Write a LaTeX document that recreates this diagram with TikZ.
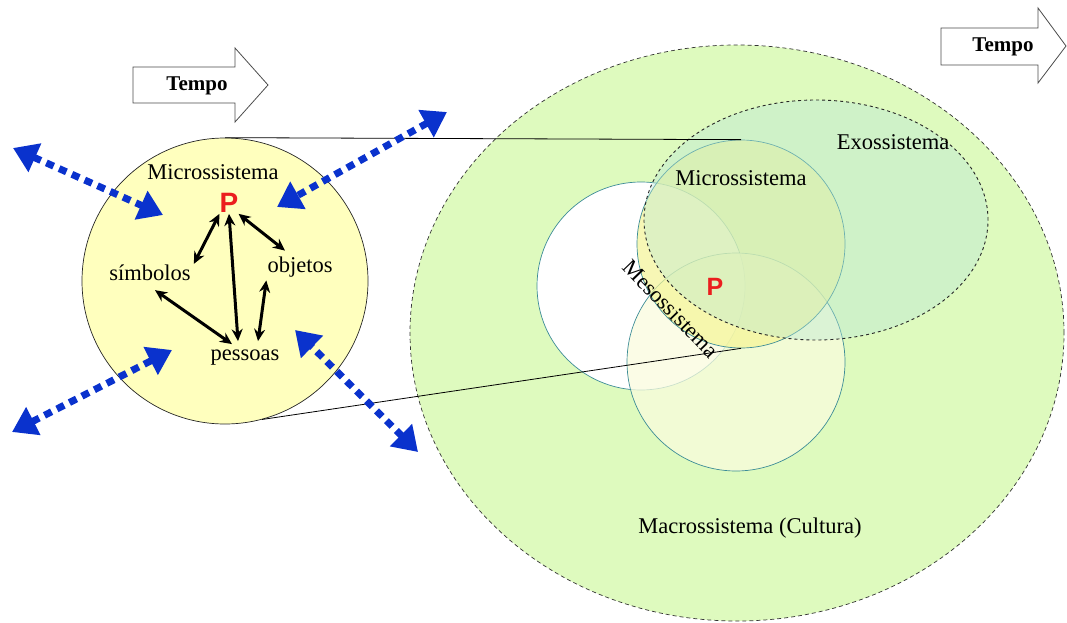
\documentclass[tikz,border=0pt]{standalone}
\usepackage{fontspec}
\setmainfont{Liberation Serif}
\newfontfamily\pfont{Liberation Sans}
\usetikzlibrary{arrows.meta}
\definecolor{bigG}{RGB}{222,250,190}
\definecolor{exoC}{RGB}{185,232,215}
\definecolor{microC}{RGB}{245,245,150}
\definecolor{botC}{RGB}{250,252,222}
\definecolor{leftC}{RGB}{255,255,190}
\definecolor{blueA}{RGB}{10,50,205}
\definecolor{tealS}{RGB}{60,140,150}
\definecolor{redP}{RGB}{235,30,30}
\tikzset{
  lbl/.style={font=\fontsize{22.5}{24}\selectfont, inner sep=1pt},
  plbl/.style={font=\pfont\bfseries\fontsize{28}{30}\selectfont, text=redP, inner sep=1pt},
  tempobox/.style={draw=black!70, fill=white, line width=0.8pt, line join=miter},
  tempotxt/.style={font=\bfseries\fontsize{21}{23}\selectfont},
  blk/.style={line width=3pt, {Stealth[length=12pt,width=11pt]}-{Stealth[length=12pt,width=11pt]}},
  blu/.style={draw=blueA, line width=7pt, dash pattern=on 8pt off 6pt,
    {Triangle[length=24pt,width=30pt]}-{Triangle[length=24pt,width=30pt]}},
  ring/.style={draw=tealS, line width=0.7pt},
}
\begin{document}
\begin{tikzpicture}[x=1pt,y=-1pt]
\useasboundingbox (0,0) rectangle (1067,623);
% big macro circle
\path[fill=bigG, draw=black!80, line width=0.7pt, dash pattern=on 4pt off 3pt]
  (737,333) ellipse [x radius=327pt, y radius=288pt];
% white circle
\path[ring, fill=white] (641,286) circle [radius=104pt];
% bottom circle
\path[ring, fill=botC, fill opacity=0.75] (736,362) circle [radius=109pt];
% micro circle (right)
\node[ring, circle, fill=microC, fill opacity=0.7, minimum size=208pt, inner sep=0pt] (mc) at (741,244) {};
% exo ellipse
\path[fill=exoC, fill opacity=0.4, draw=black!85, line width=0.9pt, dash pattern=on 3pt off 3pt]
  (816,220) ellipse [x radius=172pt, y radius=120pt];
% left circle
\node[circle, draw=black!85, fill=leftC, line width=0.7pt, minimum size=286pt, inner sep=0pt] (lc) at (225,281) {};
% connecting lines
\draw[black, line width=0.8pt] (lc.north) -- (mc.north);
\draw[black, line width=0.8pt] (lc.-75) -- (mc.south);
% right labels
\node[lbl] (mct) at (741,178) {Microssistema};
\node[lbl] (exo) at (893,142) {Exossistema};
\node[plbl, font=\pfont\bfseries\fontsize{25}{27}\selectfont] (P2) at (715,287) {P};
\node[lbl, rotate=-46] (meso) at (671,309) {Mesossistema};
\node[lbl] (macro) at (750,528) {Macrossistema (Cultura)};
% left labels
\node[lbl] (lct) at (213,172) {Microssistema};
\node[plbl] (P) at (229,203) {P};
\node[lbl] (simb) at (150,273) {símbolos};
\node[lbl] (obj) at (300,267) {objetos};
\node[lbl] (pess) at (245,358) {pessoas};
% black arrows
\draw[blk] ([xshift=1pt]P.south west) -- ([xshift=2pt]simb.north east);
\draw[blk] (P.south) -- ([xshift=-7pt,yshift=8pt]pess.north);
\draw[blk] ([xshift=-1pt]P.south east) -- ([xshift=-15pt,yshift=5pt]obj.north);
\draw[blk] ([xshift=5pt,yshift=-8pt]simb.south) -- ([xshift=-13pt,yshift=5pt]pess.north);
\draw[blk] ([yshift=-2pt]obj.south west) -- ([xshift=13pt,yshift=8pt]pess.north);
% blue dashed arrows
\coordinate (b1o) at (13,148); \coordinate (b1i) at (163,215);
\coordinate (b2o) at (447,112); \coordinate (b2i) at (277,207);
\coordinate (b3o) at (12,432); \coordinate (b3i) at (172,350);
\coordinate (b4o) at (418,452); \coordinate (b4i) at (295,330);
\draw[blu] (b1o) -- (b1i);
\draw[blu] (b2o) -- (b2i);
\draw[blu] (b3o) -- (b3i);
\draw[blu] (b4o) -- (b4i);
% tempo arrows
\draw[tempobox] (133,67) -- (235,67) -- (235,48) -- (268,85) -- (235,122) -- (235,103) -- (133,103) -- cycle;
\node[tempotxt] (t1) at (197,86) {Tempo};
\draw[tempobox] (941,28) -- (1038,28) -- (1038,8) -- (1066,46) -- (1038,83) -- (1038,65) -- (941,65) -- cycle;
\node[tempotxt] (t2) at (1003,47) {Tempo};
\end{tikzpicture}
\end{document}
